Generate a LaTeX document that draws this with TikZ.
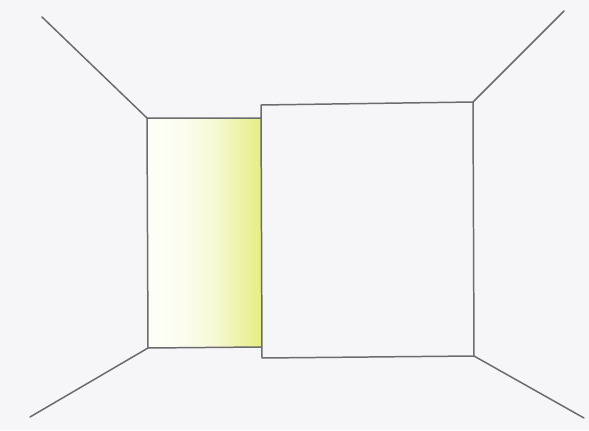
\documentclass[tikz,border=0pt]{standalone}
\usepackage{xcolor}
\definecolor{paperGray}{HTML}{F6F6F8}
\definecolor{edgeGray}{HTML}{6C6C6E}
\definecolor{wallYellow}{HTML}{E6EE84}
\usepackage{tikz}
\pgfdeclarehorizontalshading{wallglow}{100bp}{color(0bp)=(white!94!wallYellow); color(25bp)=(white!94!wallYellow); color(40bp)=(white!88!wallYellow); color(55bp)=(white!65!wallYellow); color(68bp)=(white!20!wallYellow); color(75bp)=(wallYellow); color(100bp)=(wallYellow)}

\begin{document}
\begin{tikzpicture}[x=0.02cm, y=-0.02cm, line join=round, line cap=round]
  % ------- paper -------
  \fill[paperGray] (0,0) rectangle (589,430);
  \useasboundingbox (0,0) rectangle (589,430);
  % ------- back wall (shaded) -------
  \coordinate (btl) at (147,118);
  \coordinate (btr) at (261,118);
  \coordinate (bbr) at (261,347);
  \coordinate (bbl) at (148,348);
  \shade[shading=wallglow] (btl) -- (btr) -- (bbr) -- (bbl) -- cycle;
  \draw[edgeGray, line width=0.85pt] (btr) -- (btl) -- (bbl) -- (bbr);
  % ------- front square -------
  \coordinate (ftl) at (261,105);
  \coordinate (ftr) at (473,102);
  \coordinate (fbr) at (474,356);
  \coordinate (fbl) at (262,358);
  \fill[paperGray] (ftl) -- (ftr) -- (fbr) -- (fbl) -- cycle;
  \draw[edgeGray, line width=0.85pt] (ftl) -- (ftr) -- (fbr) -- (fbl) -- cycle;
  % ------- corner rays -------
  \coordinate (rtl) at (42,17);
  \coordinate (rtr) at (564,11);
  \coordinate (rbl) at (30,417);
  \coordinate (rbr) at (584,418);
  \draw[edgeGray, line width=0.85pt] (btl) -- (rtl);
  \draw[edgeGray, line width=0.85pt] (bbl) -- (rbl);
  \draw[edgeGray, line width=0.85pt] (ftr) -- (rtr);
  \draw[edgeGray, line width=0.85pt] (fbr) -- (rbr);
\end{tikzpicture}
\end{document}
